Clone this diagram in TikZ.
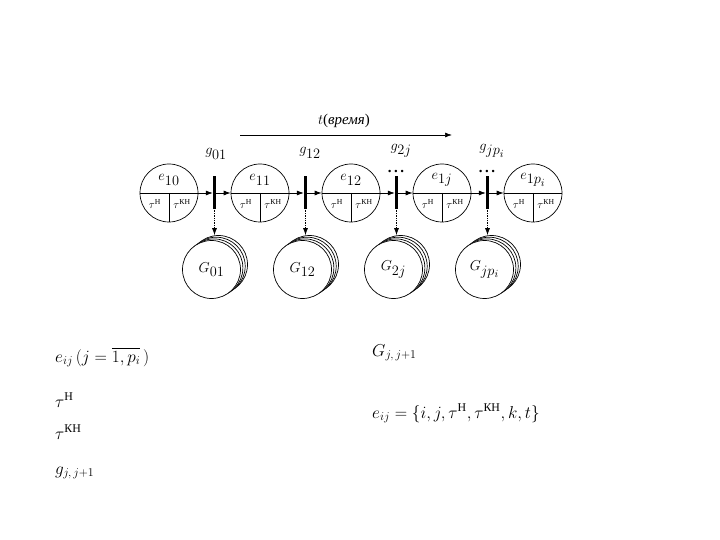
\documentclass[tikz,border=0pt]{standalone}
\usepackage{amsmath}
\usepackage{fontspec}
\setmainfont{Liberation Serif}
\usetikzlibrary{arrows.meta}
\begin{document}
\begin{tikzpicture}[x=1bp,y=-1bp,
  ecirc/.style={circle,draw,line width=0.7bp,minimum size=58bp,inner sep=0},
  gcirc/.style={circle,draw,fill=white,line width=0.7bp,minimum size=58bp,inner sep=0},
  gbar/.style={rectangle,fill=black,minimum width=3bp,minimum height=33bp,inner sep=0},
  thin line/.style={line width=0.7bp},
  flow/.style={line width=0.7bp,-{Latex[length=7bp,width=5bp]}},
  drop/.style={densely dotted,line width=0.7bp,-{Latex[length=7bp,width=5bp]}},
  lbl/.style={inner sep=0,font=\fontsize{15}{17}\selectfont},
  tlbl/.style={inner sep=0,font=\fontsize{11}{13}\selectfont},
  leg/.style={inner sep=0,anchor=base west,font=\fontsize{17}{20}\selectfont},
]
\useasboundingbox (0,0) rectangle (720,540);

% time axis
\coordinate (t0) at (240,135);
\coordinate (t1) at (452,135);
\draw[flow] (t0) -- (t1);
\node[lbl] (tl) at (344,121) {$t$(\textit{время})};

% top circles
\foreach \i/\x in {1/169,2/260,3/351,4/442,5/533}{
  \node[ecirc] (e\i) at (\x,193) {};
  \draw[thin line] (e\i.west) -- (e\i.east);
  \draw[thin line] (e\i.center) -- (e\i.south);
  \node[tlbl] (tn\i) at (\x-14,204) {$\tau^{\text{Н}}$};
  \node[tlbl] (tk\i) at (\x+13,204) {$\tau^{\text{КН}}$};
}
\node[lbl] (el1) at (169,180) {$e_{\textstyle 10}$};
\node[lbl] (el2) at (260,180) {$e_{\textstyle 11}$};
\node[lbl] (el3) at (351,180) {$e_{\textstyle 12}$};
\node[lbl] (el4) at (442,180) {$e_{\textstyle 1j}$};
\node[lbl] (el5) at (533,180) {$e_{\textstyle 1p_i}$};

% bars, stacked result circles
\foreach \i/\x in {1/214.5,2/305.5,3/396.5,4/487.5}{
  \node[gbar] (b\i) at (\x,193) {};
  \node[gcirc] (Gc\i) at (\x+4,264.5) {};
  \node[gcirc] (Gb\i) at (\x+1.7,266.2) {};
  \node[gcirc] (Ga\i) at (\x-0.6,267.9) {};
  \node[gcirc] (G\i) at (\x-3,269.5) {};
  \draw[drop] (b\i.south) -- (b\i.south |- Gc\i.north);
}
\foreach \i/\j in {1/2,2/3,3/4,4/5}{
  \draw[flow] (e\i.east) -- (b\i.west);
  \draw[flow] (b\i.east) -- (e\j.west);
}
\node[lbl] (Gl1) at (G1) {$G_{\textstyle 01}$};
\node[lbl] (Gl2) at (G2) {$G_{\textstyle 12}$};
\node[lbl] (Gl3) at (G3) {$G_{\textstyle 2j}$};
\node[lbl] (Gl4) at (G4) {$G_{\textstyle jp_i}$};

% gate labels
\node[lbl] (g1) at (216,154) {$g_{\textstyle 01}$};
\node[lbl] (g2) at (310,153) {$g_{\textstyle 12}$};
\node[lbl] (g3) at (401,151) {$g_{\textstyle 2j}$};
\node[lbl] (g4) at (492,151) {$g_{\textstyle jp_i}$};
\node[lbl] (d3) at (396,172) {\textbf{.\,.\,.}};
\node[lbl] (d4) at (487,172) {\textbf{.\,.\,.}};

% legend
\node[leg] (L1) at (55,362) {$e_{ij}\,(j=\overline{1,p_i}\,)$};
\node[leg] (L2) at (55,407) {$\tau^{\text{Н}}$};
\node[leg] (L3) at (55,439) {$\tau^{\text{КН}}$};
\node[leg] (L4) at (55,474) {$g_{j,\,j+1}$};
\node[leg] (R1) at (372,356) {$G_{j,\,j+1}$};
\node[leg] (R2) at (372,418) {$e_{ij}=\{i,j,\tau^{\text{Н}},\tau^{\text{КН}},k,t\}$};
\end{tikzpicture}
\end{document}
